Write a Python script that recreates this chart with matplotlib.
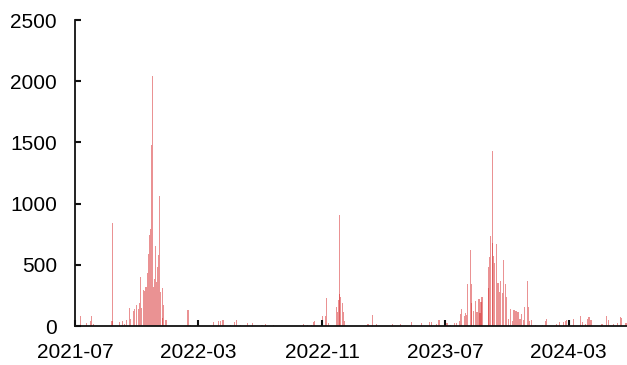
import matplotlib
matplotlib.use("Agg")
import matplotlib.pyplot as plt
import matplotlib.dates as mdates
import pandas as pd

plt.rcParams['font.family'] = ['Liberation Sans', 'DejaVu Sans']

# --- data ---
wave1_dates = ["2021-07-12", "2021-07-24", "2021-08-01", "2021-08-03", "2021-08-07",
               "2021-09-12", "2021-09-13", "2021-09-26", "2021-10-02", "2021-10-06",
               "2021-10-11", "2021-10-16", "2021-10-19", "2021-10-24", "2021-10-27",
               "2021-10-31", "2021-11-03", "2021-11-06", "2021-11-08", "2021-11-10",
               "2021-11-13", "2021-11-15", "2021-11-18", "2021-11-21", "2021-11-23",
               "2021-11-25", "2021-11-27", "2021-11-29", "2021-12-01", "2021-12-03",
               "2021-12-05", "2021-12-06", "2021-12-08", "2021-12-10", "2021-12-12",
               "2021-12-14", "2021-12-16", "2021-12-20", "2021-12-21", "2021-12-23",
               "2021-12-26", "2021-12-29"]
wave1_values = [80, 25, 40, 85, 15,
                40, 845, 35, 40, 20,
                50, 145, 60, 125, 140,
                175, 135, 187, 403, 150,
                294, 288, 320, 433, 588,
                743, 790, 1480, 2045, 320,
                387, 654, 360, 485, 580,
                1065, 280, 65, 310, 171,
                50, 45]

quiet1_dates = ["2022-02-09", "2022-02-13", "2022-03-31", "2022-04-10", "2022-04-14",
                "2022-04-19", "2022-05-03", "2022-05-11", "2022-05-16", "2022-05-24",
                "2022-06-06", "2022-06-16", "2022-07-05", "2022-07-12", "2022-07-27",
                "2022-08-14", "2022-09-24", "2022-10-03", "2022-10-11", "2022-10-15",
                "2022-10-17"]
quiet1_values = [131, 5, 33, 38, 38,
                 49, 8, 35, 49, 8,
                 22, 27, 8, 16, 8,
                 3, 14, 8, 8, 33,
                 44]

wave2_dates = ["2022-11-01", "2022-11-07", "2022-11-09", "2022-11-13", "2022-11-29",
               "2022-11-30", "2022-12-03", "2022-12-04", "2022-12-05", "2022-12-07",
               "2022-12-10", "2022-12-12", "2022-12-14"]
wave2_values = [82, 82, 226, 27, 152,
                111, 212, 259, 907, 240,
                190, 117, 44]

quiet2_dates = ["2023-01-30", "2023-02-08", "2023-02-16", "2023-03-20", "2023-04-05",
                "2023-04-25", "2023-05-15", "2023-06-01", "2023-06-04", "2023-06-14",
                "2023-06-19"]
quiet2_values = [18, 90, 18, 15, 20,
                 30, 25, 35, 30, 14,
                 49]

wave3_dates = ["2023-07-05", "2023-07-12", "2023-07-19", "2023-07-24", "2023-07-29",
               "2023-08-01", "2023-08-03", "2023-08-08", "2023-08-10", "2023-08-13",
               "2023-08-15", "2023-08-20", "2023-08-22", "2023-08-23", "2023-08-27",
               "2023-08-30", "2023-09-02", "2023-09-06", "2023-09-08", "2023-09-10",
               "2023-09-12", "2023-09-24", "2023-09-25", "2023-09-27", "2023-09-29",
               "2023-10-02", "2023-10-03", "2023-10-05", "2023-10-07", "2023-10-11",
               "2023-10-13", "2023-10-15", "2023-10-17", "2023-10-18", "2023-10-22",
               "2023-10-25", "2023-10-29", "2023-10-31", "2023-11-04", "2023-11-08",
               "2023-11-11", "2023-11-14", "2023-11-18", "2023-11-22", "2023-11-26",
               "2023-11-29", "2023-12-02", "2023-12-05", "2023-12-10", "2023-12-13",
               "2023-12-15", "2023-12-19", "2023-12-27"]
wave3_values = [27, 8, 22, 22, 41,
                98, 136, 82, 109, 90,
                343, 621, 345, 190, 125,
                204, 113, 218, 110, 196,
                240, 310, 479, 566, 735,
                1430, 675, 572, 512, 667,
                349, 349, 280, 370, 272,
                539, 343, 240, 60, 136,
                40, 130, 120, 112, 60,
                100, 50, 158, 370, 158,
                40, 49, 8]

tail_dates = ["2024-01-09", "2024-01-15", "2024-01-18", "2024-02-06", "2024-02-12",
              "2024-02-19", "2024-02-23", "2024-02-26", "2024-03-11", "2024-03-25",
              "2024-03-28", "2024-04-03", "2024-04-07", "2024-04-10", "2024-04-14",
              "2024-05-05", "2024-05-07", "2024-05-14", "2024-05-19", "2024-05-29",
              "2024-06-05", "2024-06-11", "2024-06-13", "2024-06-22"]
tail_values = [8, 44, 60, 16, 30,
               30, 44, 52, 54, 82,
               35, 16, 60, 71, 52,
               16, 16, 82, 52, 16,
               22, 71, 65, 22]

tick_labels = ["2021-07", "2022-03", "2022-11", "2023-07", "2024-03"]
y_ticks = [0, 500, 1000, 1500, 2000, 2500]

dates = pd.to_datetime(wave1_dates + quiet1_dates + wave2_dates + quiet2_dates
                       + wave3_dates + tail_dates)
values = wave1_values + quiet1_values + wave2_values + quiet2_values + wave3_values + tail_values

fig = plt.figure(figsize=(6.27, 3.65), dpi=100)
ax = fig.add_axes([75 / 627, 39 / 365, 1 - 75 / 627, 306 / 365])

ax.bar(dates, values, width=2.2, color='#d62728', alpha=0.5, linewidth=0)

ax.set_xlim(pd.Timestamp("2021-07-01"), pd.Timestamp("2024-06-24"))
ax.set_ylim(0, 2500)
ax.set_yticks(y_ticks)
ax.set_xticks(pd.to_datetime([t + "-01" for t in tick_labels]))
ax.xaxis.set_major_formatter(mdates.DateFormatter('%Y-%m'))

for s in ['top', 'right']:
    ax.spines[s].set_visible(False)
for s in ['left', 'bottom']:
    ax.spines[s].set_linewidth(1.3)
    ax.spines[s].set_color('#111111')

ax.tick_params(axis='both', direction='in', length=4, width=1.5, color='#111111',
               labelsize=15, pad=12)
ax.tick_params(axis='y', pad=13)

fig.savefig("out.png", dpi=100)
